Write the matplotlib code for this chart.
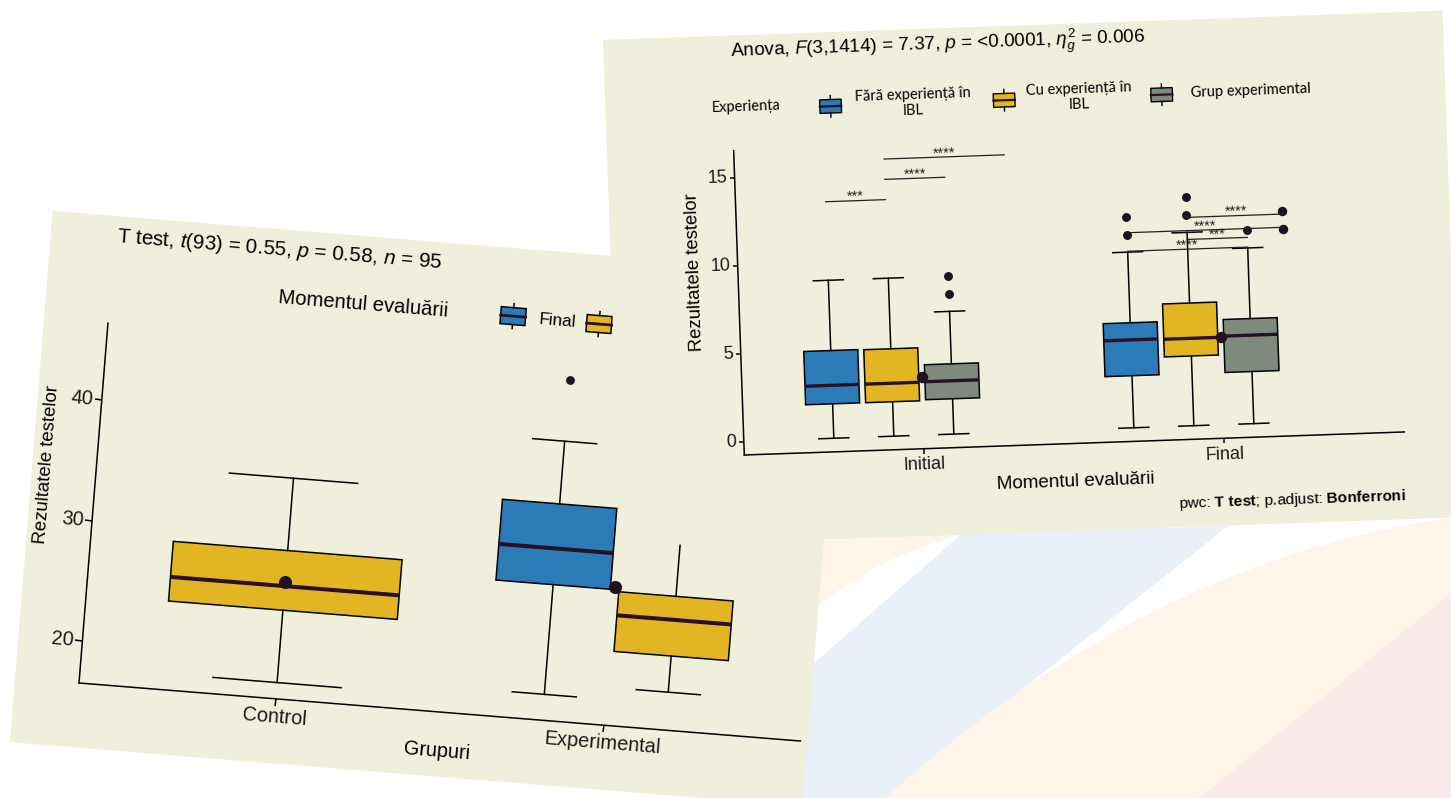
import numpy as np
import matplotlib
matplotlib.use("Agg")
import matplotlib.pyplot as plt
from matplotlib.transforms import Affine2D
from matplotlib.patches import Rectangle, Polygon
from matplotlib.markers import MarkerStyle, TICKLEFT, TICKDOWN

plt.rcParams["font.family"] = ["Liberation Sans", "DejaVu Sans"]
plt.rcParams["mathtext.fontset"] = "custom"
plt.rcParams["mathtext.rm"] = "Liberation Sans"
plt.rcParams["mathtext.it"] = "Liberation Sans:italic"
plt.rcParams["mathtext.bf"] = "Liberation Sans:bold"

# ---------------- Left chart (T test) data ----------------
left_categories = ["Control", "Experimental"]
left_series = ["Final", "Initial"]
left_box_category = [1, 2, 2]
left_box_series = ["Initial", "Final", "Initial"]
left_whislo = [17.9, 18.7, 19.7]
left_q1 = [23.9, 27.8, 22.7]
left_median = [25.9, 30.8, 25.7]
left_q3 = [28.85, 34.5, 27.65]
left_whishi = [34.85, 39.7, 32.4]
left_outliers = [[], [44.8], []]
left_means = [26.26, 28.0]
left_yticks = [20, 30, 40]

# ---------------- Right chart (Anova) data ----------------
right_categories = ["Initial", "Final"]
right_groups = ["Fără experiență în\nIBL", "Cu experiență în\nIBL", "Grup experimental"]
fara_whislo = [0.05, 0.05]
fara_q1 = [2.0, 3.0]
fara_median = [3.05, 5.03]
fara_q3 = [5.02, 6.0]
fara_whishi = [9.0, 10.0]
fara_outliers = [[], [11.0, 12.0]]
cu_whislo = [0.05, 0.05]
cu_q1 = [2.0, 4.0]
cu_median = [3.05, 5.0]
cu_q3 = [5.0, 7.0]
cu_whishi = [9.0, 11.0]
cu_outliers = [[], [12.0, 13.0]]
grup_whislo = [0.05, 0.05]
grup_q1 = [2.05, 3.0]
grup_median = [3.07, 5.06]
grup_q3 = [4.03, 6.0]
grup_whishi = [7.0, 10.0]
grup_outliers = [[8.0, 9.0], [11.0]]
right_means = [3.32, 5.0]
final_extra_x = [2.22, 2.22]
final_extra_y = [11.0, 12.0]
right_yticks = [0, 5, 10, 15]
bracket_x1 = [0.7, 0.9, 0.9, 1.7, 1.9, 1.7, 1.9]
bracket_x2 = [0.9, 1.1, 1.3, 2.1, 2.1, 2.22, 2.23]
bracket_y = [13.45, 14.6, 15.75, 10.05, 10.6, 11.1, 11.85]
bracket_label = ["***", "****", "****", "****", "***", "****", "****"]

# ---------------- styles ----------------
BLUE = "#2B7BB7"
YELLOW = "#E2B623"
GREY = "#7E8A7E"
BEIGE = "#EFEFDC"
MED = "#2B0F24"
DOT = "#22121E"
series_color = {"Final": BLUE, "Initial": YELLOW}
group_colors = [BLUE, YELLOW, GREY]

W_PX, H_PX = 1451, 798
fig = plt.figure(figsize=(W_PX / 100, H_PX / 100), dpi=100)
fig.patch.set_facecolor("white")

# ---------------- faint decorative background ----------------
bg = fig.add_axes([0, 0, 1, 1])
bg.set_xlim(0, W_PX)
bg.set_ylim(H_PX, 0)
bg.axis("off")
bg.set_zorder(0)


def bez(p0, p1, p2, n=40):
    t = np.linspace(0, 1, n)[:, None]
    p0, p1, p2 = (np.asarray(p, float) for p in (p0, p1, p2))
    return (1 - t) ** 2 * p0 + 2 * (1 - t) * t * p1 + t ** 2 * p2


cream1 = np.vstack([[(812, 541)], bez((962, 534), (870, 560), (814, 610))])
bg.add_patch(Polygon(cream1, closed=True, fc="#FCF5E8", ec="none"))
bg.add_patch(Polygon([(962, 534), (1228, 526), (885, 798), (800, 798), (812, 665)],
                     closed=True, fc="#EAF0F7", ec="none"))
cream2 = np.vstack([bez((1451, 518), (1150, 560), (885, 798)), [(1199, 798), (1451, 593)]])
bg.add_patch(Polygon(cream2, closed=True, fc="#FCF5E8", ec="none"))
bg.add_patch(Polygon([(1451, 593), (1199, 798), (1451, 798)], closed=True, fc="#FAEAEA", ec="none"))


# ---------------- helpers ----------------
def make_panel(ox, oy_img, w, h, angle, z):
    oy = H_PX - oy_img
    ax = fig.add_axes([ox / W_PX, oy / H_PX, w / W_PX, h / H_PX])
    ax.axis("off")
    ax.patch.set_visible(False)
    ax.set_zorder(z)
    R = Affine2D().rotate_deg_around(ox, oy, angle)
    P = Affine2D().translate(ox, oy) + R
    return ax, R, P


def rtext(ax, x, y, s, tr, **kw):
    kw.setdefault("color", "black")
    kw.setdefault("fontstyle", "normal")
    return ax.text(x, y, s, transform=tr, transform_rotates_text=True,
                   rotation_mode="anchor", clip_on=False, **kw)


def frame(ax, R, angle, xticks, xlabels, yticks, fs, yoff, xoff, ticklen, lw):
    ax.plot([0, 1], [0, 0], transform=ax.transAxes + R, color="black", lw=lw,
            clip_on=False, solid_capstyle="projecting")
    ax.plot([0, 0], [0, 1], transform=ax.transAxes + R, color="black", lw=lw,
            clip_on=False, solid_capstyle="projecting")
    mky = MarkerStyle(TICKLEFT, transform=Affine2D().rotate_deg(angle))
    mkx = MarkerStyle(TICKDOWN, transform=Affine2D().rotate_deg(angle))
    ax.plot(np.zeros(len(yticks)), yticks, ls="none", marker=mky, ms=ticklen, mew=lw,
            color="black", transform=ax.get_yaxis_transform() + R, clip_on=False)
    ax.plot(xticks, np.zeros(len(xticks)), ls="none", marker=mkx, ms=ticklen, mew=lw,
            color="black", transform=ax.get_xaxis_transform() + R, clip_on=False)
    for t in yticks:
        rtext(ax, 0, t, f"{t}", ax.get_yaxis_transform() + Affine2D().translate(yoff, 0) + R,
              ha="right", va="center", fontsize=fs, color="#1a1a1a")
    for x, lab in zip(xticks, xlabels):
        rtext(ax, x, 0, lab, ax.get_xaxis_transform() + Affine2D().translate(0, xoff) + R,
              ha="center", va="center", fontsize=fs, color="#1a1a1a")


def style_bxp(art, tr):
    for key in ("whiskers", "caps", "boxes", "medians", "fliers", "means"):
        for a in art.get(key, []):
            a.set_transform(tr)
            a.set_clip_on(False)


def legend_key(ax, P, uc, vc, color, bw, bh, stub, lw, medlw):
    ax.add_patch(Rectangle((uc - bw / 2, vc - bh / 2), bw, bh, transform=P, facecolor=color,
                           edgecolor="black", lw=lw, clip_on=False, zorder=3))
    ax.plot([uc - bw / 2, uc + bw / 2], [vc, vc], transform=P, color=MED, lw=medlw,
            clip_on=False, zorder=4)
    ax.plot([uc, uc], [vc + bh / 2, vc + bh / 2 + stub], transform=P, color="black", lw=lw,
            clip_on=False, zorder=3)
    ax.plot([uc, uc], [vc - bh / 2, vc - bh / 2 - stub], transform=P, color="black", lw=lw,
            clip_on=False, zorder=3)


# ================= LEFT PANEL =================
axL, RL, PL = make_panel(79, 683, 723.8, 361, -4.6, 1)
TL = axL.transData + RL
axL.add_patch(Rectangle((-64.1, -64.6), 795, 533, transform=PL, facecolor=BEIGE,
                        edgecolor="none", zorder=0, clip_on=False))

dodge = 0.75
l_stats, l_pos, l_w, l_cols = [], [], [], []
for k in range(len(left_box_category)):
    cat = left_box_category[k]
    members = [j for j in range(len(left_box_category)) if left_box_category[j] == cat]
    n = len(members)
    i = members.index(k)
    l_pos.append(cat + (i - (n - 1) / 2) * dodge / n)
    l_w.append(dodge / n * 0.93)
    l_cols.append(series_color[left_box_series[k]])
    l_stats.append(dict(med=left_median[k], q1=left_q1[k], q3=left_q3[k],
                        whislo=left_whislo[k], whishi=left_whishi[k],
                        fliers=np.array(left_outliers[k]), label=""))
artL = axL.bxp(l_stats, positions=l_pos, widths=l_w, capwidths=[w * 0.56 for w in l_w],
               patch_artist=True, manage_ticks=False,
               boxprops=dict(edgecolor="black", linewidth=1.1),
               whiskerprops=dict(color="black", linewidth=1.1),
               capprops=dict(color="black", linewidth=1.1),
               medianprops=dict(color=MED, linewidth=2.9, solid_capstyle="butt"),
               flierprops=dict(marker="o", markerfacecolor=DOT, markeredgecolor=DOT, markersize=5.3))
for p, c in zip(artL["boxes"], l_cols):
    p.set_facecolor(c)
style_bxp(artL, TL)
axL.plot([1, 2], left_means, ls="none", marker="o", ms=8.4, color=DOT, transform=TL,
         clip_on=False, zorder=5)
axL.set_xlim(0.4, 2.6)
axL.set_ylim(16.55, 46.4)
frame(axL, RL, -4.6, [1, 2], left_categories, left_yticks, 14.4, -8.5, -18.5, 4.8, 1.1)

rtext(axL, 2.4, 443, r"T test, $\mathit{t}$(93) = 0.55, $\mathit{p}$ = 0.58, $\mathit{n}$ = 95", PL,
      ha="left", va="baseline", fontsize=14.9)
rtext(axL, -49.8, 215.7, "Rezultatele testelor", PL, ha="center", va="center",
      rotation=90, fontsize=13.4)
rtext(axL, 361.9, -39.5, "Grupuri", PL, ha="center", va="center", fontsize=14.3)
rtext(axL, 167.4, 400.5, "Momentul evaluării", PL, ha="left", va="center", fontsize=14.6)
legend_key(axL, PL, 403.3, 400.5, series_color["Final"], 25, 17, 4, 1.1, 2.0)
rtext(axL, 429, 399.5, "Final", PL, ha="left", va="center", fontsize=12.3)
legend_key(axL, PL, 489.6, 399.5, series_color["Initial"], 25, 17, 4, 1.1, 2.0)
rtext(axL, 515, 399.5, "Initial", PL, ha="left", va="center", fontsize=12.3)

# ================= RIGHT PANEL =================
axR, RR, PR = make_panel(744.3, 455, 660.4, 304.5, 2.0, 2)
TR = axR.transData + RR
axR.add_patch(Rectangle((-126.7, -87.3), 840, 507, transform=PR, facecolor=BEIGE,
                        edgecolor="none", zorder=0, clip_on=False))

slot = 0.2
gdata = [
    (fara_whislo, fara_q1, fara_median, fara_q3, fara_whishi, fara_outliers),
    (cu_whislo, cu_q1, cu_median, cu_q3, cu_whishi, cu_outliers),
    (grup_whislo, grup_q1, grup_median, grup_q3, grup_whishi, grup_outliers),
]
r_stats, r_pos, r_cols = [], [], []
for c in range(len(right_categories)):
    for i, (lo, q1, md, q3, hi, fl) in enumerate(gdata):
        r_stats.append(dict(med=md[c], q1=q1[c], q3=q3[c], whislo=lo[c], whishi=hi[c],
                            fliers=np.array(fl[c]), label=""))
        r_pos.append(c + 1 + (i - 1.5) * slot)
        r_cols.append(group_colors[i])
artR = axR.bxp(r_stats, positions=r_pos, widths=0.18, capwidths=0.1,
               patch_artist=True, manage_ticks=False,
               boxprops=dict(edgecolor="black", linewidth=1.1),
               whiskerprops=dict(color="black", linewidth=1.1),
               capprops=dict(color="black", linewidth=1.1),
               medianprops=dict(color=MED, linewidth=2.4, solid_capstyle="butt"),
               flierprops=dict(marker="o", markerfacecolor=DOT, markeredgecolor=DOT, markersize=5.4))
for p, c in zip(artR["boxes"], r_cols):
    p.set_facecolor(c)
style_bxp(artR, TR)
axR.plot(final_extra_x, final_extra_y, ls="none", marker="o", ms=5.8, color=DOT,
         transform=TR, clip_on=False, zorder=4)
axR.plot([1, 2], right_means, ls="none", marker="o", ms=7.2, color=DOT, transform=TR,
         clip_on=False, zorder=5)
for x1, x2, yb, lab in zip(bracket_x1, bracket_x2, bracket_y, bracket_label):
    axR.plot([x1, x2], [yb, yb], color="#222222", lw=0.9, transform=TR, clip_on=False, zorder=4)
    rtext(axR, (x1 + x2) / 2, yb, lab, TR, ha="center", va="baseline", fontsize=10.5,
          color="#222222")
axR.set_xlim(0.4, 2.6)
axR.set_ylim(-0.72, 16.52)
frame(axR, RR, 2.0, [1, 2], right_categories, right_yticks, 13.0, -7.5, -16.5, 3.6, 1.1)

rtext(axR, 0, 398, r"Anova, $\mathit{F}$(3,1414) = 7.37, $\mathit{p}$ = <0.0001, $\eta^2_g$ = 0.006",
      PR, ha="left", va="baseline", fontsize=13.6)
rtext(axR, -42.9, 184, "Rezultatele testelor", PR, ha="center", va="center", rotation=90,
      fontsize=13.3)
rtext(axR, 330.2, -38.6, "Momentul evaluării", PR, ha="center", va="center", fontsize=13.6)
rtext(axR, 660, -64, r"pwc: $\mathbf{T\ test}$; p.adjust: $\mathbf{Bonferroni}$", PR,
      ha="right", va="center", fontsize=11.1)

LEG_FONT = ["Lato", "Noto Sans", "DejaVu Sans"]
rtext(axR, -21, 348, "Experiența", PR, ha="left", va="center", fontsize=10.5, family=LEG_FONT)
key_u = [98.4, 272.1, 429.7]
txt_u = [181, 347, 518.5]
for i, g in enumerate(right_groups):
    legend_key(axR, PR, key_u[i], 345.5, group_colors[i], 21.5, 13.5, 4, 1.0, 1.6)
    rtext(axR, txt_u[i], 346.5, g, PR, ha="center", va="center", fontsize=10.5,
          family=LEG_FONT, multialignment="center", linespacing=1.15)

fig.savefig("out.png", dpi=100, facecolor="white")
